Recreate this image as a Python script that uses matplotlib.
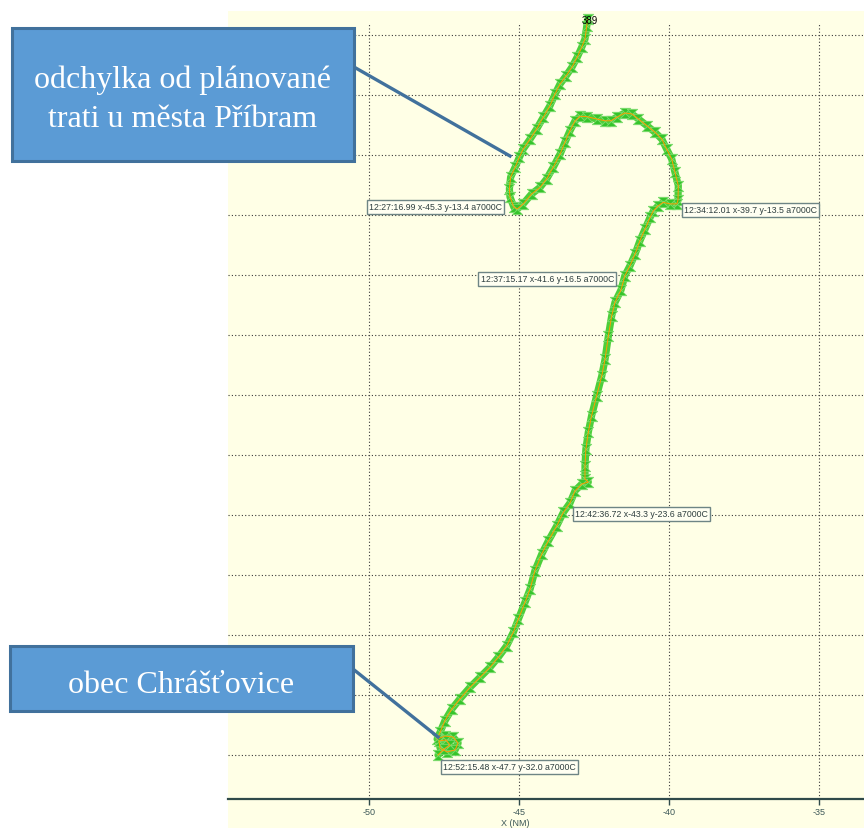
import matplotlib
matplotlib.use("Agg")
import matplotlib.pyplot as plt
from matplotlib.patches import Rectangle
from matplotlib.lines import Line2D

# ---- data -----------------------------------------------------------------
# radar track of flight 389 (NM from the reference point), in time order
track_x = [
    -42.71, -42.74, -42.80, -42.91, -43.06, -43.24, -43.43, -43.63, -43.80, -43.97,
    -44.19, -44.41, -44.63, -44.86, -44.99, -45.13, -45.28, -45.32, -45.30, -45.17,
    -45.06, -44.86, -44.58, -44.30, -44.08, -43.86, -43.63, -43.47, -43.30, -43.13,
    -42.97, -42.74, -42.41, -42.13, -41.94, -41.74, -41.47, -41.24, -41.02, -40.74,
    -40.47, -40.24, -40.08, -39.91, -39.80, -39.69, -39.70, -39.74, -39.97, -40.19,
    -40.36, -40.52, -40.63, -40.80, -40.97, -41.13, -41.30, -41.47, -41.60, -41.80,
    -41.91, -42.02, -42.13, -42.24, -42.41, -42.58, -42.69, -42.77, -42.80, -42.80,
    -42.69, -42.91, -43.13, -43.30, -43.52, -43.74, -44.02, -44.24, -44.47, -44.63,
    -44.80, -45.02, -45.19, -45.41, -45.69, -45.97, -46.30, -46.63, -46.97, -47.24,
    -47.47, -47.63, -47.73, -47.47, -47.20, -47.03, -47.13, -47.40, -47.63, -47.67,
    -47.43, -47.30, -47.50, -47.70,
]
track_y = [
    -7.47, -7.69, -8.13, -8.41, -8.74, -9.08, -9.36, -9.63, -9.97, -10.36,
    -10.74, -11.13, -11.47, -11.80, -12.08, -12.41, -12.74, -13.13, -13.40, -13.74,
    -13.80, -13.63, -13.30, -13.08, -12.80, -12.41, -11.97, -11.58, -11.19, -10.86,
    -10.71, -10.72, -10.80, -10.86, -10.86, -10.74, -10.60, -10.63, -10.80, -11.02,
    -11.24, -11.47, -11.80, -12.13, -12.58, -13.02, -13.50, -13.63, -13.63, -13.58,
    -13.69, -13.86, -14.08, -14.47, -14.86, -15.30, -15.69, -16.02, -16.50, -16.91,
    -17.36, -18.02, -18.80, -19.36, -20.02, -20.69, -21.24, -21.80, -22.36, -22.80,
    -22.90, -22.97, -23.19, -23.60, -23.91, -24.36, -24.86, -25.30, -25.86, -26.47,
    -26.91, -27.47, -27.91, -28.36, -28.74, -29.08, -29.41, -29.74, -30.13, -30.47,
    -30.86, -31.24, -31.47, -31.37, -31.40, -31.60, -31.83, -31.90, -31.77, -31.53,
    -31.50, -31.67, -31.80, -32.00,
]
track_id = "389"

# tagged plots along the track
tag_times = ["12:27:16.99", "12:34:12.01", "12:37:15.17", "12:42:36.72", "12:52:15.48"]
tag_x = [-45.3, -39.7, -41.6, -43.3, -47.7]
tag_y = [-13.4, -13.5, -16.5, -23.6, -32.0]
tag_alt = "a7000C"

x_ticks = [-50, -45, -40, -35]
x_tick_labels = ["-50", "-45", "-40", "-35"]
y_grid = list(range(-32, -7, 2))

callout_texts = ["odchylka od plánované\ntrati u města Příbram", "obec Chrášťovice"]

# ---- figure ---------------------------------------------------------------
W, H = 864, 829
fig = plt.figure(figsize=(W / 100, H / 100), dpi=100, facecolor="white")

BG = "#ffffe6"
# plot panel background (also under the tick labels)
fig.patches.append(Rectangle((228 / W, 0), (W - 228) / W, (H - 12) / H,
                             transform=fig.transFigure, facecolor=BG,
                             edgecolor="none", zorder=-10))

ax = fig.add_axes([228 / W, 29 / H, 636 / W, 776 / H])
ax.set_facecolor("none")
ax.set_xlim(-54.7, -33.5)
ax.set_ylim(-33.467, -7.6)

for s in ("top", "left", "right"):
    ax.spines[s].set_visible(False)
ax.spines["bottom"].set_color("#2f4a4a")
ax.spines["bottom"].set_linewidth(1.6)

ax.set_xticks(x_ticks)
ax.set_xticklabels(x_tick_labels, fontfamily="Liberation Sans")
ax.set_yticks(y_grid)
ax.tick_params(axis="x", length=4, width=1, color="#2f4a4a", labelsize=6.5,
               labelcolor="#3d5858", pad=2)
ax.tick_params(axis="y", length=0, labelleft=False)
ax.grid(True, color="#3a3a3a", linestyle=(0, (1, 2)), linewidth=0.8)
ax.set_axisbelow(True)

fig.text(515 / W, 1 / H, "X (NM)", ha="center", va="bottom", fontsize=6.5,
         color="#3d5858", fontfamily="Liberation Sans")

# ---- track ----------------------------------------------------------------
hourglass = [(-1, 1), (1, 1), (-1, -1), (1, -1), (-1, 1)]
ax.plot(track_x, track_y, color="#4ccf3a", lw=5.2, solid_joinstyle="round",
        solid_capstyle="round", clip_on=False, zorder=3)
ax.plot(track_x, track_y, ls="none", marker=hourglass, ms=7.5,
        mfc="#35c42b", mec="#7ddc6e", mew=0.6, clip_on=False, zorder=4)
ax.plot(track_x, track_y, color="#ff9c00", lw=0.7, clip_on=False, zorder=5)

ax.annotate(track_id, (track_x[0], track_y[0]), xytext=(2, -1),
            textcoords="offset pixels", ha="center", va="center",
            fontsize=7, color="black", fontfamily="Liberation Sans",
            annotation_clip=False, zorder=6)

# tag boxes: (dx, dy) offsets in pixels and horizontal alignment
tag_layout = [(-8, -10, "right"), (6, -10, "left"), (-7, 11, "right"),
              (5, -11, "left"), (5, -12, "left")]
for t, x, y, (dx, dy, ha) in zip(tag_times, tag_x, tag_y, tag_layout):
    ax.annotate(f"{t} x{x:.1f} y{y:.1f} {tag_alt}", (x, y), xytext=(dx, dy),
                textcoords="offset pixels", ha=ha, va="center", fontsize=6.3,
                color="#2f3f3f", fontfamily="Liberation Sans",
                annotation_clip=False, zorder=7,
                bbox=dict(boxstyle="square,pad=0.28", fc="#fffff2",
                          ec="#6e8585", lw=1))

# ---- callouts -------------------------------------------------------------
def fx(px):
    return px / W


def fy(py):
    return (H - py) / H


BOX_FC = "#5b9bd5"
BOX_EC = "#41719c"
callout_boxes = [(12, 29, 354, 162), (10, 647, 353, 712)]
callout_text_y = [91, 682]
callout_leaders = [((354, 68), (510, 157)), ((353, 670), (438, 738))]

for (x0, y0, x1, y1), txt, ty, ((lx0, ly0), (lx1, ly1)) in zip(
        callout_boxes, callout_texts, callout_text_y, callout_leaders):
    fig.add_artist(Line2D([fx(lx0), fx(lx1)], [fy(ly0), fy(ly1)],
                          transform=fig.transFigure, color=BOX_EC, lw=2.4,
                          zorder=20))
    fig.add_artist(Rectangle((fx(x0), fy(y1)), (x1 - x0) / W, (y1 - y0) / H,
                             transform=fig.transFigure, facecolor=BOX_FC,
                             edgecolor=BOX_EC, lw=2.2, zorder=21))
    fig.text(fx((x0 + x1) / 2), fy(ty), txt, ha="center",
             va="center_baseline", fontsize=23, color="white", linespacing=1.45,
             fontfamily="Liberation Serif", zorder=22)

fig.savefig("out.png", dpi=100, facecolor="white")
